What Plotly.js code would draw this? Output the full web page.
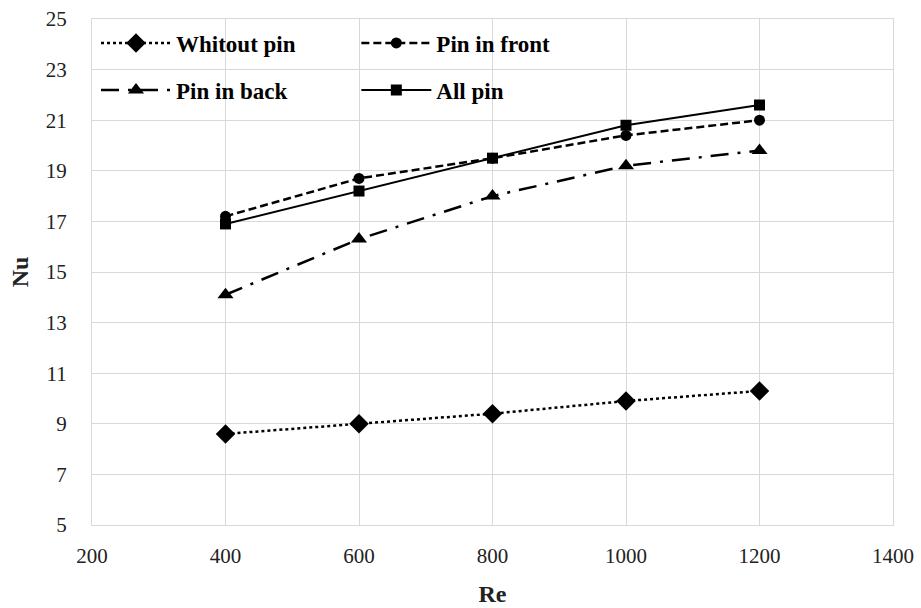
<!DOCTYPE html>
<html>
<head>
<meta charset="utf-8">
<script src="https://cdn.plot.ly/plotly-3.0.1.min.js"></script>
<style>html,body{margin:0;padding:0;background:#fff;}#chart{width:921px;height:608px;}</style>
</head>
<body>
<div id="chart"></div>
<script>
var re = [400, 600, 800, 1000, 1200];
var nuWithout = [8.6, 9.0, 9.4, 9.9, 10.3];
var nuFront = [17.2, 18.7, 19.5, 20.4, 21.0];
var nuBack = [14.1, 16.3, 18.0, 19.2, 19.8];
var nuAll = [16.9, 18.2, 19.5, 20.8, 21.6];
var names = ["Whitout pin", "Pin in front", "Pin in back", "All pin"];
var xTicks = [200, 400, 600, 800, 1000, 1200, 1400];
var yTicks = [5, 7, 9, 11, 13, 15, 17, 19, 21, 23, 25];

var FAM = "Liberation Serif";

var traces = [
  {x: re, y: nuWithout, name: names[0], mode: 'lines+markers', legend: 'legend', legendgroup: 'a',
   line: {color: '#000', width: 2.5, dash: '3px,3px'}, marker: {symbol: 'diamond', size: 15, color: '#000'}},
  {x: re, y: nuFront, name: names[1], mode: 'lines+markers', legend: 'legend2', legendgroup: 'b',
   line: {color: '#000', width: 2.5, dash: '8px,4px'}, marker: {symbol: 'circle', size: 11, color: '#000'}},
  {x: re, y: nuBack, name: names[2], mode: 'lines+markers', legend: 'legend', legendgroup: 'c',
   line: {color: '#000', width: 2.5, dash: '18px,9px,3px,9px'}, marker: {symbol: 'triangle-up', size: 14, color: '#000'}},
  {x: re, y: nuAll, name: names[3], mode: 'lines+markers', legend: 'legend2', legendgroup: 'd',
   line: {color: '#000', width: 2}, marker: {symbol: 'square', size: 11, color: '#000'}}
];

var legendFont = {family: FAM, size: 23, color: '#000', weight: 'bold'};
var layout = {
  width: 921, height: 608,
  margin: {l: 92, r: 28, t: 19, b: 83},
  paper_bgcolor: '#fff', plot_bgcolor: '#fff',
  font: {family: FAM, color: '#222'},
  xaxis: {
    range: [200, 1400], tickvals: xTicks, ticktext: xTicks.map(String),
    showgrid: true, gridcolor: '#d9d9d9', gridwidth: 1,
    showline: true, linecolor: '#d9d9d9', mirror: true, zeroline: false,
    ticks: '', ticklabelstandoff: 12,
    tickfont: {family: FAM, size: 21, color: '#222'},
    title: {text: '<b>Re</b>', font: {family: FAM, size: 24, color: '#222'}, standoff: 17}
  },
  yaxis: {
    range: [5, 25], tickvals: yTicks, ticktext: yTicks.map(String),
    showgrid: true, gridcolor: '#d9d9d9', gridwidth: 1,
    showline: true, linecolor: '#d9d9d9', mirror: true, zeroline: false,
    ticks: '', ticklabelstandoff: 20,
    tickfont: {family: FAM, size: 21, color: '#222'},
    title: {text: '<b>Nu</b>', font: {family: FAM, size: 24, color: '#222'}, standoff: 10}
  },
  legend: {x: 0.005, y: 0.995, xanchor: 'left', yanchor: 'top', bgcolor: 'rgba(0,0,0,0)',
    font: legendFont, tracegroupgap: 14, orientation: 'v', itemwidth: 70},
  legend2: {x: 0.33, y: 0.995, xanchor: 'left', yanchor: 'top', bgcolor: 'rgba(0,0,0,0)',
    font: legendFont, tracegroupgap: 14, orientation: 'v', itemwidth: 70},
  showlegend: true
};
Plotly.newPlot('chart', traces, layout, {displayModeBar: false, staticPlot: true}).then(function(gd){
  var n = document.querySelectorAll('.legendtext').length;
  gd.setAttribute('data-legend-items', String(n));
});
</script>
</body>
</html>
